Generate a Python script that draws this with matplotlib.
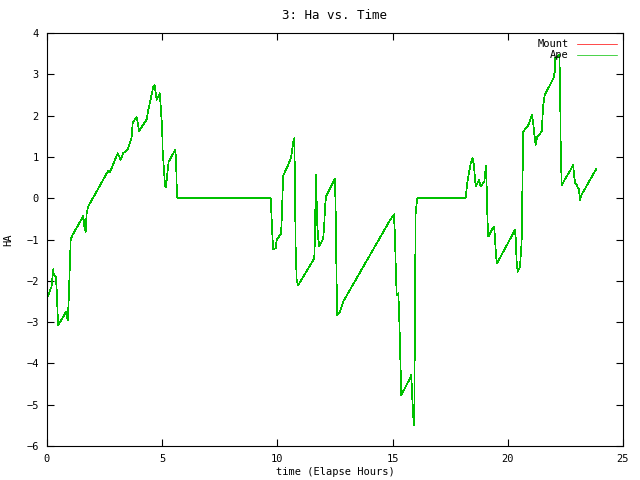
import matplotlib
matplotlib.use("Agg")
import matplotlib.pyplot as plt

# elapsed hours and hour angle
hours = [0.0, 0.2, 0.27, 0.3, 0.38, 0.42, 0.46, 0.49, 0.82, 0.9, 0.94, 1.0, 1.03, 1.11,
         1.58, 1.62, 1.68, 1.72, 1.79, 2.66, 2.73, 3.07, 3.2, 3.3, 3.49, 3.67, 3.72,
         3.89, 3.92, 4.0, 4.33, 4.4, 4.61, 4.67, 4.76, 4.9, 4.94, 5.0, 5.02, 5.08,
         5.12, 5.16, 5.24, 5.28, 5.56, 5.6, 5.63, 5.66, 9.71, 9.75, 9.79, 9.82, 9.93,
         9.97, 10.16, 10.19, 10.23, 10.26, 10.4, 10.59, 10.65, 10.69, 10.73, 10.76,
         10.79, 10.84, 10.91, 11.6, 11.63, 11.67, 11.7, 11.72, 11.77, 11.82, 11.99,
         12.03, 12.07, 12.11, 12.29, 12.5, 12.53, 12.57, 12.6, 12.72, 12.86, 14.89,
         15.06, 15.1, 15.15, 15.18, 15.25, 15.29, 15.35, 15.37, 15.76, 15.81, 15.86,
         15.9, 15.94, 15.97, 16.0, 16.07, 18.17, 18.24, 18.31, 18.39, 18.47, 18.53,
         18.58, 18.61, 18.68, 18.75, 18.82, 18.98, 19.02, 19.05, 19.08, 19.12, 19.15,
         19.2, 19.34, 19.41, 19.44, 19.49, 19.53, 20.31, 20.35, 20.38, 20.43, 20.53,
         20.6, 20.65, 20.67, 20.89, 21.05, 21.1, 21.15, 21.21, 21.28, 21.47, 21.54,
         21.6, 21.98, 22.05, 22.06, 22.24, 22.27, 22.3, 22.34, 22.84, 22.87, 22.92,
         22.99, 23.02, 23.09, 23.13, 23.2, 23.85]
mount = [-2.42, -2.14, -1.72, -1.86, -1.9, -2.2, -2.77, -3.07, -2.76, -2.95, -2.5, -1.5,
         -1.0, -0.89, -0.43, -0.69, -0.81, -0.37, -0.2, 0.67, 0.62, 1.09, 0.93, 1.09,
         1.17, 1.45, 1.83, 1.97, 1.89, 1.63, 1.91, 2.14, 2.69, 2.74, 2.38, 2.54, 2.18,
         1.69, 1.17, 0.68, 0.32, 0.26, 0.68, 0.88, 1.17, 1.0, 0.3, 0.0, 0.0, -0.49,
         -0.97, -1.24, -1.21, -1.01, -0.85, -0.49, 0.2, 0.56, 0.72, 0.97, 1.21, 1.37,
         1.45, 0.6, -1.13, -2.02, -2.1, -1.46, -0.97, 0.56, 0.08, -0.53, -0.97, -1.17,
         -0.97, -0.69, -0.2, 0.04, 0.24, 0.48, -0.33, -2.02, -2.83, -2.75, -2.5, -0.53,
         -0.39, -0.89, -1.9, -2.34, -2.3, -2.9, -4.16, -4.77, -4.36, -4.27, -4.89, -5.29,
         -5.49, -2.99, -0.37, 0.0, 0.0, 0.36, 0.6, 0.84, 0.97, 0.8, 0.44, 0.28, 0.36,
         0.44, 0.28, 0.4, 0.6, 0.78, 0.36, -0.53, -0.93, -0.89, -0.73, -0.69, -0.93,
         -1.38, -1.58, -0.77, -1.01, -1.5, -1.78, -1.66, -1.09, 0.76, 1.61, 1.77, 2.01,
         1.85, 1.57, 1.29, 1.49, 1.61, 2.26, 2.5, 2.9, 3.1, 3.39, 3.47, 2.7, 1.13, 0.32,
         0.8, 0.6, 0.36, 0.32, 0.28, 0.22, -0.04, 0.08, 0.72]
ape = list(mount)

plt.rcParams["font.family"] = "DejaVu Sans Mono"
plt.rcParams["font.size"] = 7.5

fig = plt.figure(figsize=(6.4, 4.8), dpi=100)
ax = fig.add_axes([0.0734, 0.0708, 0.9, 0.8604])

ax.plot(hours, mount, color="#ff0000", linewidth=0.5, antialiased=False, label="Mount")
ax.plot(hours, ape, color="#00c000", linewidth=0.5, antialiased=False, label="Ape")

ax.set_xlim(0, 25)
ax.set_ylim(-6, 4)
ax.set_xticks(range(0, 26, 5))
ax.set_yticks(range(-6, 5))
ax.tick_params(direction="in", length=5, width=0.8, top=True, right=True, pad=6)
for s in ax.spines.values():
    s.set_linewidth(0.8)

ax.set_title("3: Ha vs. Time", pad=10)
ax.set_xlabel("time (Elapse Hours)", labelpad=2)
ax.set_ylabel("HA", labelpad=9)

ax.legend(loc="upper right", frameon=False, markerfirst=False, handlelength=3.8,
          borderaxespad=0.2, labelspacing=0.1, handletextpad=0.8)

fig.savefig("out.png", dpi=100)
